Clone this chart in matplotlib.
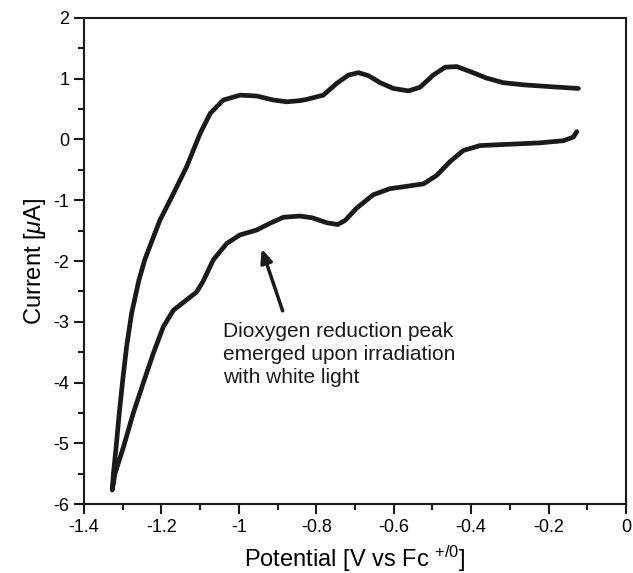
import numpy as np
from matplotlib import pyplot as plt
from matplotlib.ticker import MultipleLocator

plt.rcParams['font.family'] = ['Liberation Sans', 'DejaVu Sans']
plt.rcParams['mathtext.fontset'] = 'custom'
plt.rcParams['mathtext.rm'] = 'Liberation Sans'
plt.rcParams['mathtext.it'] = 'Liberation Sans:italic'

# upper branch, from the negative turning point to the right end
upper_x = [-1.327, -1.324, -1.317, -1.309, -1.300, -1.290, -1.277, -1.258, -1.243, -1.230,
           -1.204, -1.169, -1.135, -1.100, -1.074, -1.040, -0.997, -0.954, -0.911, -0.876,
           -0.842, -0.825, -0.782, -0.747, -0.717, -0.691, -0.665, -0.635, -0.601, -0.562,
           -0.532, -0.498, -0.467, -0.437, -0.403, -0.360, -0.317, -0.265, -0.196, -0.123]
upper_y = [-5.77, -5.50, -5.06, -4.51, -3.96, -3.41, -2.86, -2.31, -1.98, -1.76,
           -1.33, -0.89, -0.45, 0.10, 0.43, 0.65, 0.73, 0.716, 0.65, 0.62,
           0.64, 0.66, 0.73, 0.925, 1.06, 1.10, 1.05, 0.935, 0.84, 0.80,
           0.86, 1.06, 1.19, 1.20, 1.12, 1.01, 0.935, 0.90, 0.87, 0.84]

# lower branch, from the negative turning point to the right end
lower_x = [-1.327, -1.320, -1.298, -1.273, -1.247, -1.221, -1.195, -1.169, -1.135, -1.109,
           -1.092, -1.066, -1.031, -0.997, -0.954, -0.920, -0.885, -0.842, -0.810, -0.773,
           -0.745, -0.725, -0.696, -0.653, -0.610, -0.566, -0.523, -0.489, -0.454, -0.420,
           -0.377, -0.308, -0.222, -0.162, -0.136, -0.127]
lower_y = [-5.77, -5.50, -5.06, -4.51, -4.01, -3.52, -3.08, -2.81, -2.64, -2.51,
           -2.33, -1.98, -1.71, -1.57, -1.49, -1.38, -1.28, -1.26, -1.29, -1.37,
           -1.40, -1.33, -1.13, -0.91, -0.81, -0.77, -0.73, -0.59, -0.36, -0.18,
           -0.10, -0.08, -0.055, -0.02, 0.04, 0.13]

cv_x = upper_x[::-1] + lower_x[1:]
cv_y = upper_y[::-1] + lower_y[1:]

fig = plt.figure(figsize=(6.33, 5.73), dpi=100)
ax = fig.add_axes([0.1327, 0.1204, 0.8563, 0.8482])

ax.plot(cv_x, cv_y, color='#1a1a1a', lw=3.4, solid_joinstyle='round', solid_capstyle='round')

ax.set_xlim(-1.4, 0)
ax.set_ylim(-6, 2)
ax.xaxis.set_minor_locator(MultipleLocator(0.1))
ax.yaxis.set_minor_locator(MultipleLocator(0.5))
ax.set_xticks(np.arange(-1.4, 0.01, 0.2))
ax.set_xticklabels(['-1.4', '-1.2', '-1', '-0.8', '-0.6', '-0.4', '-0.2', '0'])
ax.set_yticks(np.arange(-6, 2.01, 1))
ax.set_yticklabels(['-6', '-5', '-4', '-3', '-2', '-1', '0', '1', '2'])

ax.tick_params(which='major', direction='out', length=7, width=1.5, labelsize=13, color='#1a1a1a')
ax.tick_params(which='minor', direction='out', length=4.5, width=1.5, color='#1a1a1a')
for s in ax.spines.values():
    s.set_linewidth(1.5)
    s.set_color('#1a1a1a')

ax.set_xlabel('Potential [V vs Fc $^{+/0}$]', fontsize=17, labelpad=6)
ax.set_ylabel('Current [$\\mu$A]', fontsize=17, labelpad=4)

ax.annotate('', xy=(-0.941, -1.80), xytext=(-0.887, -2.82),
            arrowprops=dict(arrowstyle='-|>,head_length=0.8,head_width=0.35',
                            color='#1a1a1a', lw=2.5, shrinkA=0, shrinkB=0))
ax.text(-1.042, -3.0, 'Dioxygen reduction peak\nemerged upon irradiation\nwith white light',
        fontsize=15, va='top', ha='left', linespacing=1.28, color='#1a1a1a')

fig.savefig('out.png', dpi=100)
